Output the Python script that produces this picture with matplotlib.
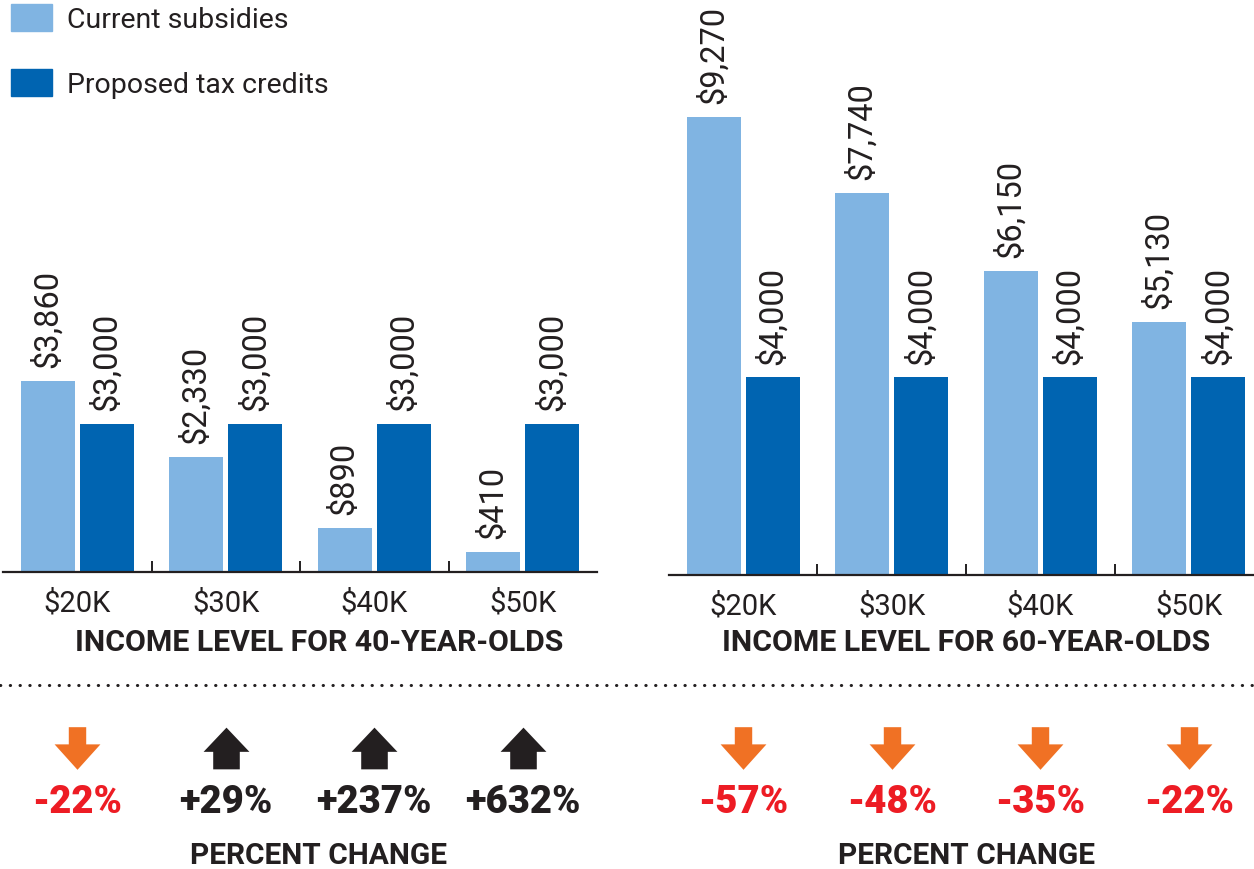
import matplotlib
matplotlib.use("Agg")
import matplotlib.pyplot as plt
import matplotlib.transforms as mtransforms
from matplotlib.patches import Patch
from matplotlib.lines import Line2D
from matplotlib.path import Path

# Data
incomes = ["$20K", "$30K", "$40K", "$50K"]
current_40 = [3860, 2330, 890, 410]
proposed_40 = [3000, 3000, 3000, 3000]
current_60 = [9270, 7740, 6150, 5130]
proposed_60 = [4000, 4000, 4000, 4000]
pct_40 = [-22, 29, 237, 632]
pct_60 = [-57, -48, -35, -22]

LIGHT = "#80b4e2"
DARK = "#0064b1"
ORANGE = "#f07124"
RED = "#ed1c24"
INK = "#231f20"

plt.rcParams["font.family"] = ["Roboto", "DejaVu Sans"]

W, H = 1254, 870
fig = plt.figure(figsize=(W / 100, H / 100), dpi=100)

# arrow marker shapes
down_arrow = Path([(-0.19, 0.465), (0.19, 0.465), (0.19, 0.09), (0.5, 0.09),
                   (0, -0.465), (-0.5, 0.09), (-0.19, 0.09), (-0.19, 0.465)],
                  closed=True)
up_arrow = Path([(0, 0.455), (0.5, -0.073), (0.29, -0.073), (0.29, -0.455),
                 (-0.29, -0.455), (-0.29, -0.073), (-0.5, -0.073), (0, 0.455)],
                closed=True)


def panel(left_px, base_px, current, proposed, pct, title, title_x):
    ax = fig.add_axes([left_px / W, (H - base_px) / H, 594 / W, 494 / H])
    x = list(range(len(incomes)))
    bw = 0.364
    off = 0.199
    b1 = ax.bar([i - off for i in x], current, bw, color=LIGHT)
    b2 = ax.bar([i + off for i in x], proposed, bw, color=DARK)
    for bars, vals in ((b1, current), (b2, proposed)):
        for rect, v in zip(bars, vals):
            ax.annotate(f"${v:,}", (rect.get_x() + rect.get_width() / 2, v),
                        xytext=(0, 10), textcoords="offset points",
                        rotation=90, ha="center", va="bottom",
                        fontsize=23.5, color=INK, annotation_clip=False)
    ax.set_xlim(-0.5, 3.5)
    ax.set_ylim(0, 10000)
    for s in ("top", "left", "right"):
        ax.spines[s].set_visible(False)
    ax.spines["bottom"].set_linewidth(1.6)
    ax.spines["bottom"].set_color(INK)
    ax.set_yticks([])
    ax.set_xticks(x, incomes)
    ax.set_xticks([0.5, 1.5, 2.5], minor=True)
    ax.tick_params(axis="x", which="major", length=0, pad=12,
                   labelsize=21, labelcolor=INK)
    ax.tick_params(axis="x", which="minor", length=8, width=1.4,
                   direction="in", color=INK)

    fig.text(title_x / W, 1 - 643 / H, title, ha="center", va="center",
             fontsize=21.8, fontweight="bold", color=INK)

    # percent change row
    trans = mtransforms.blended_transform_factory(ax.transData, fig.transFigure)
    for i, p in enumerate(pct):
        neg = p < 0
        ax.plot([i], [1 - 749 / H], transform=trans, clip_on=False,
                marker=down_arrow if neg else up_arrow, markersize=33,
                color=ORANGE if neg else INK, markeredgewidth=0, linestyle="none")
        ax.text(i, 1 - 803 / H, f"{p:+d}%" if p > 0 else f"{p}%", transform=trans,
                ha="center", va="center", fontsize=27.5, fontweight="black",
                color=RED if neg else INK)
    fig.text(title_x / W, 1 - 856 / H, "PERCENT CHANGE", ha="center",
             va="center", fontsize=21.5, fontweight="bold", color=INK)
    return ax


ax1 = panel(3, 573, current_40, proposed_40, pct_40,
            "INCOME LEVEL FOR 40-YEAR-OLDS", 319)
ax2 = panel(669, 576, current_60, proposed_60, pct_60,
            "INCOME LEVEL FOR 60-YEAR-OLDS", 966)

# dotted separator
fig.add_artist(Line2D([0, 1], [1 - 686 / H] * 2, transform=fig.transFigure,
                      color=INK, linewidth=2.2, linestyle=(0, (0.1, 3.1)),
                      dash_capstyle="round"))

handles = [Patch(color=LIGHT, label="Current subsidies"),
           Patch(color=DARK, label="Proposed tax credits")]
fig.legend(handles=handles, loc="upper left", bbox_to_anchor=(11 / W, 1 - 5 / H),
           frameon=False, fontsize=20.5, handlelength=1.45, handleheight=1.1,
           handletextpad=0.5, labelspacing=1.25, borderpad=0, borderaxespad=0,
           labelcolor=INK)

fig.savefig("out.png", dpi=100)
